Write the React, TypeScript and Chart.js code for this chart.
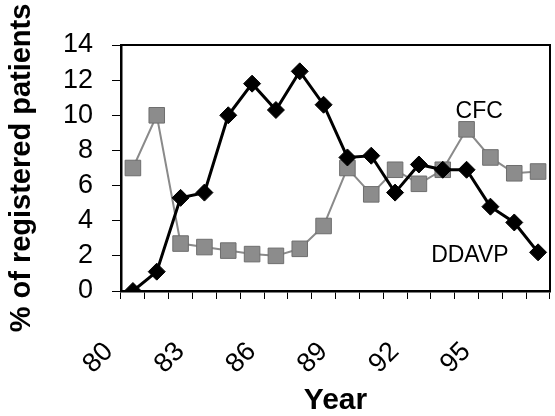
import React, { useEffect, useRef } from 'react';
import { Chart, registerables } from 'chart.js';

Chart.register(...registerables);

const years = ['80', '81', '82', '83', '84', '85', '86', '87', '88', '89', '90', '91', '92', '93', '94', '95', '96', '97'];
const shownYearLabels = ['80', '83', '86', '89', '92', '95'];
const ddavp = [0, 1.1, 5.3, 5.6, 10.0, 11.8, 10.3, 12.5, 10.6, 7.6, 7.7, 5.6, 7.2, 6.9, 6.9, 4.8, 3.9, 2.2];
const cfc = [7.0, 10.0, 2.7, 2.5, 2.3, 2.1, 2.0, 2.4, 3.7, 7.0, 5.5, 6.9, 6.1, 6.9, 9.2, 7.6, 6.7, 6.8];
const seriesNames = ['DDAVP', 'CFC'];
// label anchors in data coordinates (category index, value)
const seriesLabelIndex = [14.14, 14.53];
const seriesLabelValue = [2.0, 10.2];

const FONT = "'Liberation Sans', Arial, sans-serif";

const overlayPlugin = {
  id: 'overlay',
  afterDraw(chart: any) {
    const { ctx, chartArea, scales } = chart;
    ctx.save();
    ctx.strokeStyle = '#000';
    ctx.lineWidth = 2;
    ctx.beginPath();
    ctx.moveTo(chartArea.left, chartArea.top);
    ctx.lineTo(chartArea.right, chartArea.top);
    ctx.lineTo(chartArea.right, chartArea.bottom);
    ctx.stroke();
    ctx.fillStyle = '#000';
    ctx.font = `23px ${FONT}`;
    ctx.textAlign = 'center';
    ctx.textBaseline = 'middle';
    seriesNames.forEach((name, i) => {
      const x = scales.x.getPixelForValue(seriesLabelIndex[i]);
      const y = scales.y.getPixelForValue(seriesLabelValue[i]);
      ctx.fillText(name, x, y);
    });
    ctx.restore();
  },
};

export default function App() {
  const canvasRef = useRef<HTMLCanvasElement | null>(null);

  useEffect(() => {
    if (!canvasRef.current) return;
    const chart = new Chart(canvasRef.current, {
      type: 'line',
      data: {
        labels: years,
        datasets: [
          {
            label: seriesNames[0],
            data: ddavp,
            borderColor: '#000',
            borderWidth: 3,
            backgroundColor: '#000',
            pointStyle: 'rectRot',
            pointRadius: 8.5,
            pointBorderWidth: 1,
            pointBackgroundColor: '#000',
            pointBorderColor: '#000',
            tension: 0,
          },
          {
            label: seriesNames[1],
            data: cfc,
            borderColor: '#8a8a8a',
            borderWidth: 2,
            backgroundColor: '#8a8a8a',
            pointStyle: 'rect',
            pointRadius: 11,
            pointBorderWidth: 1,
            pointBackgroundColor: '#8c8c8c',
            pointBorderColor: '#6e6e6e',
            tension: 0,
          },
        ],
      },
      options: {
        animation: false,
        responsive: true,
        maintainAspectRatio: false,
        layout: { padding: { top: 45, right: 2, left: 0, bottom: 0 } },
        plugins: {
          legend: { display: false },
          tooltip: { enabled: false },
        },
        scales: {
          x: {
            type: 'category',
            offset: true,
            grid: {
              offset: true,
              drawOnChartArea: false,
              drawTicks: true,
              tickLength: 8,
              color: '#000',
              lineWidth: 1,
            },
            border: { display: true, color: '#000', width: 2.5 },
            ticks: {
              autoSkip: false,
              minRotation: 45,
              maxRotation: 45,
              padding: 37,
              labelOffset: -24,
              color: '#000',
              font: { family: FONT, size: 27 },
              callback: (_v: any, idx: number) => (shownYearLabels.includes(years[idx]) ? years[idx] : ''),
            },
            title: {
              display: true,
              text: 'Year',
              color: '#000',
              font: { family: FONT, size: 30, weight: 'bold', lineHeight: 1 },
              padding: { top: 0, bottom: 0 },
            },
            afterFit: (scale: any) => {
              scale.height = 125;
              scale.paddingLeft = 0;
              scale.paddingRight = 0;
            },
          },
          y: {
            min: 0,
            max: 14,
            grid: {
              drawOnChartArea: false,
              drawTicks: true,
              tickLength: 9,
              color: '#000',
              lineWidth: 1,
            },
            border: { display: true, color: '#000', width: 2.5 },
            ticks: {
              stepSize: 2,
              autoSkip: false,
              padding: 19,
              color: '#000',
              font: { family: FONT, size: 27 },
            },
            title: {
              display: true,
              text: '% of registered patients',
              color: '#000',
              font: { family: FONT, size: 29, weight: 'bold', lineHeight: 1.2 },
              padding: { top: 5, bottom: 0 },
            },
            afterFit: (scale: any) => {
              scale.width = 121;
              scale.paddingTop = 0;
              scale.paddingBottom = 0;
            },
          },
        },
      },
      plugins: [overlayPlugin],
    });
    return () => chart.destroy();
  }, []);

  return (
    <div style={{ position: 'fixed', left: 0, top: 0, width: 555, height: 416, overflow: 'hidden', background: '#fff' }}>
      <div style={{ position: 'relative', width: 562, height: 416 }}>
        <canvas ref={canvasRef} />
      </div>
    </div>
  );
}
